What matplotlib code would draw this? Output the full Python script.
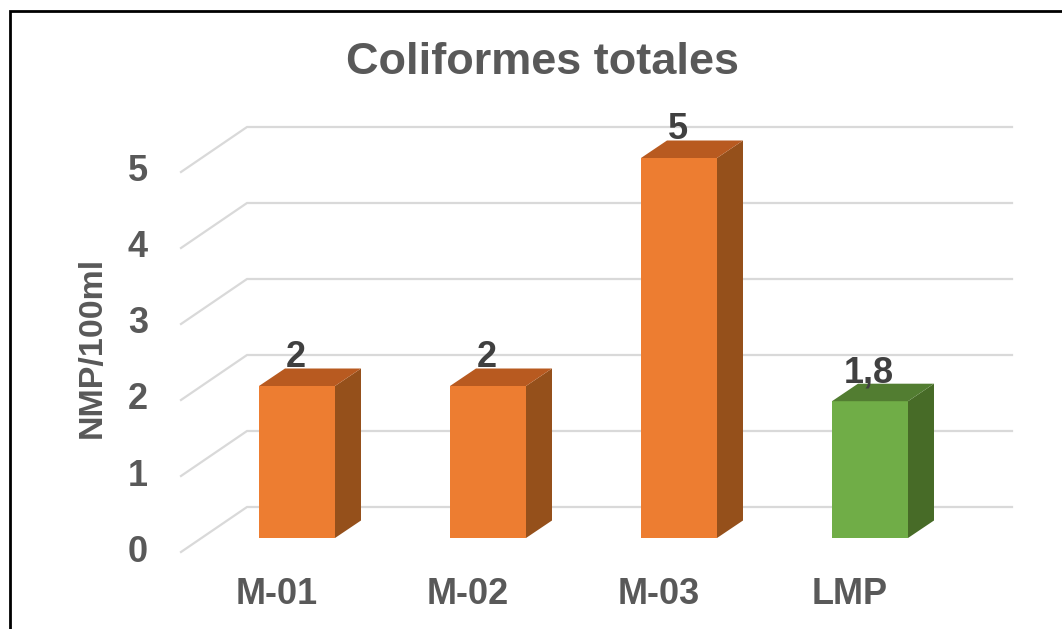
import matplotlib
matplotlib.use('Agg')
import matplotlib.pyplot as plt
from matplotlib.patches import Polygon

categories = ['M-01', 'M-02', 'M-03', 'LMP']
values = [2, 2, 5, 1.8]
value_labels = ['2', '2', '5', '1,8']
y_ticks = [0, 1, 2, 3, 4, 5]

front_colors = ['#ED7D31', '#ED7D31', '#ED7D31', '#70AD47']
top_colors = ['#B85A20', '#B85A20', '#B85A20', '#527D31']
side_colors = ['#95501B', '#95501B', '#95501B', '#476B27']
TEXT = '#595959'
LABEL = '#404040'
GRID = '#D9D9D9'

W, H = 1062, 629
PX_X = 191.0   # pixels per category
PX_Y = 76.0    # pixels per unit
X0, Y0 = 297.0, 538.0   # pixel position of first bar centre / baseline

plt.rcParams['font.family'] = ['Liberation Sans', 'DejaVu Sans']

fig = plt.figure(figsize=(W / 100, H / 100), dpi=100)
ax = fig.add_axes([0, 0, 1, 1])
ax.set_xlim(-X0 / PX_X, (W - X0) / PX_X)
ax.set_ylim(-(H - Y0) / PX_Y, Y0 / PX_Y)
ax.axis('off')

# pixel offsets -> data units
dx = lambda p: p / PX_X
dy = lambda p: p / PX_Y

bar_w = dx(76)
depth_x, depth_y = dx(26), dy(17.5)

# floor and wall grid
wall_left = dx(247 - X0)
wall_right = dx(1012 - X0)
front_left = dx(181 - X0)
for t in y_ticks:
    wall_y = t + dy(538 - 507)
    front_y = t - dy(552 - 538)
    ax.plot([front_left, wall_left, wall_right], [front_y, wall_y, wall_y],
            color=GRID, lw=1.6, zorder=1, solid_joinstyle='miter')
    ax.text(front_left - dx(43), front_y, str(t), fontsize=26, weight='bold',
            color=TEXT, ha='center', va='center')

# bars
for i, v in enumerate(values):
    l, r = i - bar_w / 2, i + bar_w / 2
    ax.bar(i, v, width=bar_w, color=front_colors[i], zorder=3)
    ax.add_patch(Polygon([(r, 0), (r + depth_x, depth_y), (r + depth_x, v + depth_y), (r, v)],
                         closed=True, fc=side_colors[i], ec='none', zorder=3))
    ax.add_patch(Polygon([(l, v), (l + depth_x, v + depth_y), (r + depth_x, v + depth_y), (r, v)],
                         closed=True, fc=top_colors[i], ec='none', zorder=3))
    ax.text(i - dx(1), v + dy(28), value_labels[i], fontsize=26, weight='bold',
            color=LABEL, ha='center', va='center', zorder=4)
    ax.text(i - dx(20), -dy(56), categories[i], fontsize=26, weight='bold',
            color=TEXT, ha='center', va='center')

ax.text(dx(92 - X0), dy(538 - 347), 'NMP/100ml', fontsize=24.5, weight='bold', color=TEXT,
        rotation=90, ha='center', va='center')
ax.text(dx(542 - X0), dy(538 - 63), 'Coliformes totales', fontsize=32.5, weight='bold',
        color=TEXT, ha='center', va='center')

# outer frame, only top and left are visible
ax.plot([dx(1062 - X0), dx(10 - X0), dx(10 - X0)], [dy(538 - 11), dy(538 - 11), dy(538 - 629)],
        color='black', lw=2, zorder=5, solid_joinstyle='miter')

fig.savefig('out.png', dpi=100)
